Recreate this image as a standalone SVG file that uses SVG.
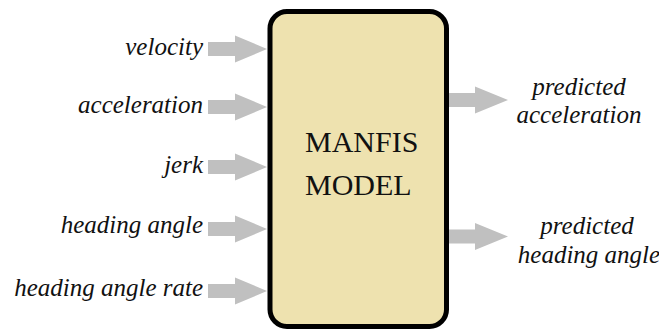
<svg xmlns="http://www.w3.org/2000/svg" width="659" height="331" viewBox="0 0 659 331">
<style>
.lbl{font-family:"Liberation Serif","Times New Roman",serif;font-style:italic;font-size:25px;fill:#111}
.in{text-anchor:end}
.out{text-anchor:middle}
.title{font-family:"Liberation Serif","Times New Roman",serif;font-size:30px;fill:#111}
.arrow{fill:#c0c0c0}
</style>
<rect width="659" height="331" fill="#ffffff"/>
<g id="model">
<rect x="270" y="11.5" width="176.5" height="315" rx="17" fill="#eee2af" stroke="#000" stroke-width="5"/>
<text class="title" x="305" y="152">MANFIS</text>
<text class="title" x="305" y="195">MODEL</text>
</g>
<g id="connectors">
<path class="arrow" d="M208,42 H235 V35.5 L267,49 L235,62.5 V56 H208 Z"/>
<path class="arrow" d="M208,100 H235 V93.5 L267,107 L235,120.5 V114 H208 Z"/>
<path class="arrow" d="M208,160 H235 V153.5 L267,167 L235,180.5 V174 H208 Z"/>
<path class="arrow" d="M208,222 H235 V215.5 L267,229 L235,242.5 V236 H208 Z"/>
<path class="arrow" d="M208,284 H235 V277.5 L267,291 L235,304.5 V298 H208 Z"/>
<path class="arrow" d="M449,93 H475 V86.5 L508,100 L475,113.5 V107 H449 Z"/>
<path class="arrow" d="M449,229.5 H475 V223 L508,236.5 L475,250 V243.5 H449 Z"/>
</g>
<g id="in-velocity"><text class="lbl in" x="203" y="55">velocity</text></g>
<g id="in-acceleration"><text class="lbl in" x="203" y="113">acceleration</text></g>
<g id="in-jerk"><text class="lbl in" x="203" y="173">jerk</text></g>
<g id="in-heading-angle"><text class="lbl in" x="203" y="233">heading angle</text></g>
<g id="in-heading-angle-rate"><text class="lbl in" x="203" y="296">heading angle rate</text></g>
<g id="out-acceleration"><text class="lbl out" x="579" y="95">predicted</text><text class="lbl out" x="579" y="123">acceleration</text></g>
<g id="out-heading-angle"><text class="lbl out" x="587" y="234">predicted</text><text class="lbl out" x="589" y="263">heading angle</text></g>
</svg>
